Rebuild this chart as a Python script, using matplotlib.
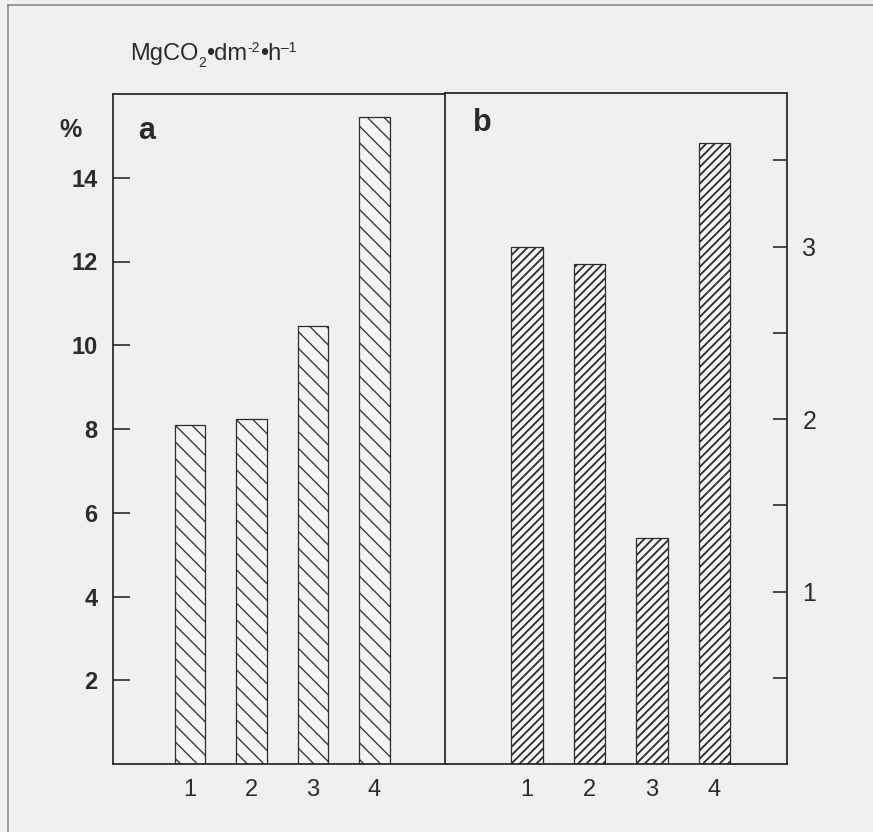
import numpy as np
import matplotlib
matplotlib.use('Agg')
import matplotlib.pyplot as plt

# Data
groups = ['1', '2', '3', '4']
rate_a = [8.1, 8.25, 10.45, 15.45]      # panel a, % scale
rate_b = [3.0, 2.9, 1.31, 3.6]          # panel b, right scale

a_ticks = [2, 4, 6, 8, 10, 12, 14]
b_ticks = [0.5, 1, 1.5, 2, 2.5, 3, 3.5]
b_labels = ['', '1', '', '2', '', '3', '']

bg = '#f0f0f0'
ink = '#2b2b2b'
plt.rcParams['font.family'] = ['Liberation Sans', 'DejaVu Sans']
plt.rcParams['hatch.color'] = '#3a3a3a'

W, H = 873, 832
fig = plt.figure(figsize=(W / 100, H / 100), dpi=100, facecolor=bg)


def box(l, t, r, b):
    return [l / W, 1 - b / H, (r - l) / W, (b - t) / H]


def hatch_lw(bars, lw):
    # thicker hatch lines where the patch supports it
    for p in bars:
        if hasattr(p, 'set_hatch_linewidth'):
            p.set_hatch_linewidth(lw)


x = np.arange(1, len(groups) + 1)

# panel a
ax1 = fig.add_axes(box(113, 94, 447, 764), facecolor=bg)
with plt.rc_context({'hatch.linewidth': 0.9}):
    bars_a = ax1.bar(x, rate_a, width=0.49, color='#f4f4f4', edgecolor=ink,
                     linewidth=0.9, hatch='\\\\')
hatch_lw(bars_a, 0.9)
ax1.set_xlim(-0.252, 5.18)
ax1.set_ylim(0, 16)
ax1.set_yticks(a_ticks)
ax1.set_yticklabels([str(t) for t in a_ticks], fontsize=17, fontweight='bold',
                    color=ink)
ax1.tick_params(axis='y', direction='in', length=12, width=1.2, pad=11,
                color=ink)
ax1.set_xticks(x)
ax1.set_xticklabels(groups, fontsize=17, color=ink)
ax1.tick_params(axis='x', length=0, pad=11)
ax1.text(0.1, 0.945, 'a', transform=ax1.transAxes, fontsize=22,
         fontweight='bold', color=ink, va='center', ha='center')

# panel b
ax2 = fig.add_axes(box(445, 93, 787, 764), facecolor=bg)
with plt.rc_context({'hatch.linewidth': 1.3}):
    bars_b = ax2.bar(x, rate_b, width=0.5, color='#f4f4f4', edgecolor=ink,
                     linewidth=0.9, hatch='////')
hatch_lw(bars_b, 1.3)
ax2.set_xlim(-0.312, 5.16)
ax2.set_ylim(0, 3.89)
ax2.yaxis.tick_right()
ax2.set_yticks(b_ticks)
ax2.set_yticklabels(b_labels, fontsize=18, color=ink)
ax2.tick_params(axis='y', direction='in', length=10, width=1.2, pad=11,
                color=ink)
ax2.set_xticks(x)
ax2.set_xticklabels(groups, fontsize=17, color=ink)
ax2.tick_params(axis='x', length=0, pad=11)
ax2.text(0.11, 0.955, 'b', transform=ax2.transAxes, fontsize=22,
         fontweight='bold', color=ink, va='center', ha='center')

for ax in (ax1, ax2):
    for s in ax.spines.values():
        s.set_color(ink)
        s.set_linewidth(1.3)

# labels outside the axes
fig.text(70 / W, 1 - 130 / H, '%', fontsize=18, fontweight='bold',
         color=ink, ha='center', va='center')

# unit label built from runs: (text, size, baseline in px from top)
unit_runs = [('MgCO', 17, 60), ('2', 10, 67), ('•dm', 17, 60), ('-2', 10, 52),
             ('•h', 17, 60), ('\u20131', 10, 52)]
renderer = fig.canvas.get_renderer()
xpos = 130
for txt, size, base in unit_runs:
    t = fig.text(xpos / W, 1 - base / H, txt, fontsize=size, color=ink,
                 ha='left', va='baseline')
    xpos += t.get_window_extent(renderer).width

# page frame from the scan
fig.add_artist(plt.Line2D([8 / W, 8 / W], [0, 1 - 5 / H], color='#8a8a8a',
                          lw=1.2, transform=fig.transFigure))
fig.add_artist(plt.Line2D([8 / W, 1], [1 - 5 / H, 1 - 5 / H], color='#8a8a8a',
                          lw=1.2, transform=fig.transFigure))

fig.savefig('out.png', dpi=100, facecolor=bg)
